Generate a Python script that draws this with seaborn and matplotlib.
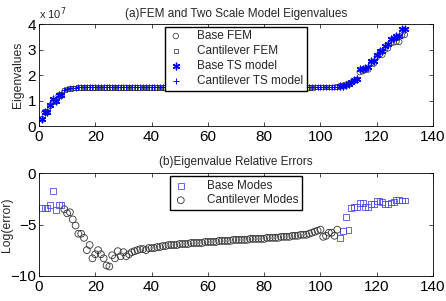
import numpy as np
import matplotlib
matplotlib.use("Agg")
import matplotlib.pyplot as plt
import seaborn as sns

# Mode numbers
base_modes_lo = [1, 2, 3, 4, 5, 6, 7, 8]
cant_modes = list(range(9, 107))
base_modes_hi = list(range(107, 131))

# Eigenvalues (units of 1e7)
base_fem_lo = [0.27, 0.55, 0.55, 0.80, 0.95, 0.97, 1.20, 1.20]
base_ts_lo = [0.28, 0.55, 0.56, 0.82, 1.07, 0.98, 1.22, 1.22]
base_fem_hi = [1.56, 1.58, 1.62, 1.66, 1.70, 1.78, 1.80, 2.12, 2.15, 2.20, 2.22, 2.45,
               2.45, 2.70, 2.80, 2.80, 3.00, 3.05, 3.25, 3.28, 3.30, 3.30, 3.55, 3.58]
base_ts_hi = [1.56, 1.59, 1.63, 1.67, 1.72, 1.82, 1.84, 2.22, 2.25, 2.28, 2.30, 2.55,
              2.55, 2.80, 2.95, 2.95, 3.15, 3.20, 3.42, 3.45, 3.52, 3.55, 3.82, 3.82]
cant_fem = [1.42, 1.45, 1.47, 1.49, 1.50, 1.51, 1.51, 1.51, 1.52, 1.52,
            1.52, 1.52, 1.52, 1.52, 1.52, 1.52, 1.52, 1.52, 1.52, 1.52,
            1.52, 1.52, 1.52, 1.52, 1.52, 1.52, 1.52, 1.52, 1.52, 1.52,
            1.52, 1.52, 1.52, 1.52, 1.52, 1.52, 1.52, 1.52, 1.52, 1.52,
            1.52, 1.52, 1.52, 1.52, 1.52, 1.52, 1.52, 1.52, 1.52, 1.52,
            1.52, 1.52, 1.52, 1.52, 1.52, 1.52, 1.52, 1.52, 1.52, 1.52,
            1.52, 1.52, 1.52, 1.52, 1.52, 1.52, 1.52, 1.52, 1.52, 1.52,
            1.52, 1.52, 1.52, 1.52, 1.52, 1.52, 1.52, 1.52, 1.52, 1.52,
            1.52, 1.52, 1.52, 1.52, 1.52, 1.52, 1.52, 1.52, 1.52, 1.53,
            1.53, 1.53, 1.53, 1.53, 1.53, 1.54, 1.54, 1.55]
cant_ts = [1.43, 1.46, 1.48, 1.50, 1.51, 1.52, 1.52, 1.52, 1.52, 1.52,
           1.52, 1.52, 1.52, 1.52, 1.52, 1.52, 1.52, 1.52, 1.52, 1.52,
           1.52, 1.52, 1.52, 1.52, 1.52, 1.52, 1.52, 1.52, 1.52, 1.52,
           1.52, 1.52, 1.52, 1.52, 1.52, 1.52, 1.52, 1.52, 1.52, 1.52,
           1.52, 1.52, 1.52, 1.52, 1.52, 1.52, 1.52, 1.52, 1.52, 1.52,
           1.52, 1.52, 1.52, 1.52, 1.52, 1.52, 1.52, 1.52, 1.52, 1.52,
           1.52, 1.52, 1.52, 1.52, 1.52, 1.52, 1.52, 1.52, 1.52, 1.52,
           1.52, 1.52, 1.52, 1.52, 1.52, 1.52, 1.52, 1.52, 1.52, 1.52,
           1.52, 1.52, 1.52, 1.52, 1.52, 1.52, 1.52, 1.52, 1.52, 1.53,
           1.53, 1.53, 1.53, 1.53, 1.53, 1.54, 1.54, 1.55]

# Log relative errors
base_err_lo = [-3.4, -3.4, -3.4, -3.1, -1.7, -3.6, -3.1, -3.1]
base_err_hi = [-6.3, -5.6, -4.3, -5.5, -3.4, -3.3, -3.25, -2.9, -2.9, -3.25, -3.3, -3.0,
               -3.0, -2.7, -2.7, -2.8, -3.0, -2.95, -2.85, -2.8, -2.6, -2.6, -2.65, -2.65]
cant_err = [-3.5, -3.9, -3.8, -4.5, -5.1, -5.9, -5.9, -6.3, -7.5, -7.0,
            -8.3, -7.9, -7.5, -7.9, -8.3, -9.0, -9.1, -8.0, -8.3, -7.6,
            -8.1, -7.7, -8.1, -7.9, -7.7, -7.6, -7.5, -7.4, -7.4, -7.5,
            -7.3, -7.3, -7.3, -7.2, -7.2, -7.1, -7.1, -7.0, -7.0, -7.0,
            -7.0, -6.9, -6.9, -6.9, -6.9, -6.8, -6.8, -6.8, -6.8, -6.8,
            -6.7, -6.7, -6.7, -6.7, -6.7, -6.6, -6.6, -6.6, -6.6, -6.6,
            -6.5, -6.5, -6.5, -6.5, -6.5, -6.5, -6.4, -6.4, -6.4, -6.4,
            -6.4, -6.4, -6.3, -6.3, -6.3, -6.3, -6.3, -6.2, -6.2, -6.2,
            -6.2, -6.1, -6.1, -6.1, -6.0, -6.0, -6.0, -5.9, -5.8, -5.7,
            -5.6, -5.5, -6.2, -6.1, -5.8, -5.8, -6.1, -5.5]

sns.set_style("ticks")
plt.rcParams['font.family'] = ['Liberation Sans', 'DejaVu Sans']
plt.rcParams['font.size'] = 8

fig = plt.figure(figsize=(4.46, 3.01), dpi=100)
ax1 = fig.add_axes([0.0874, 0.581, 0.8834, 0.339])
ax2 = fig.add_axes([0.0874, 0.084, 0.8834, 0.340])

asterisk = (6, 2, 0)

# (a) eigenvalues
base_x = base_modes_lo + base_modes_hi
sns.scatterplot(x=base_x, y=base_fem_lo + base_fem_hi, marker='o', s=16, color='k',
                facecolor='none', edgecolor=(0.15, 0.15, 0.15), linewidth=0.5, label='Base FEM', ax=ax1)
sns.scatterplot(x=cant_modes, y=cant_fem, marker='s', s=10, color='k',
                facecolor='none', edgecolor=(0.15, 0.15, 0.15), linewidth=0.5, label='Cantilever FEM', ax=ax1)
sns.scatterplot(x=base_x, y=base_ts_lo + base_ts_hi, marker=asterisk, s=22, color='blue',
                linewidth=1.0, label='Base TS model', ax=ax1)
sns.scatterplot(x=cant_modes, y=cant_ts, marker='+', s=14, color='blue',
                linewidth=0.7, label='Cantilever TS model', ax=ax1)
ax1.set_xlim(0, 140)
ax1.set_ylim(0, 4)
ax1.set_yticks([0, 1, 2, 3, 4])
ax1.set_ylabel('Eigenvalues', fontsize=8.7)
ax1.yaxis.set_label_coords(-0.038, 0.5)
ax1.set_title('(a)FEM and Two Scale Model Eigenvalues', fontsize=8.5, pad=5)
ax1.text(0.0, 1.02, r'x 10$^7$', transform=ax1.transAxes, fontsize=8, va='bottom')
ax1.legend(loc='upper center', bbox_to_anchor=(0.5, 0.975), fontsize=8.5, frameon=True,
           fancybox=False, edgecolor='k', framealpha=1, borderpad=0.3, labelspacing=0.25,
           handlelength=1.2, handletextpad=1.2, borderaxespad=0)

# (b) errors
sns.scatterplot(x=base_x, y=base_err_lo + base_err_hi, marker='s', s=18, color='blue',
                facecolor='none', edgecolor=(0.3, 0.3, 0.9), linewidth=0.6, label='Base Modes', ax=ax2)
sns.scatterplot(x=cant_modes, y=cant_err, marker='o', s=24, color='k',
                facecolor='none', edgecolor=(0.2, 0.2, 0.2), linewidth=0.6, label='Cantilever Modes', ax=ax2)
ax2.set_xlim(0, 140)
ax2.set_ylim(-10, 0)
ax2.set_yticks([-10, -5, 0])
ax2.set_ylabel('Log(error)', fontsize=8.7)
ax2.yaxis.set_label_coords(-0.066, 0.5)
ax2.set_title('(b)Eigenvalue Relative Errors', fontsize=8.5, pad=6)
ax2.legend(loc='upper center', bbox_to_anchor=(0.5, 0.97), fontsize=8.5, frameon=True,
           fancybox=False, edgecolor='k', framealpha=1, borderpad=0.3, labelspacing=0.2,
           handlelength=1.2, handletextpad=1.6, borderaxespad=0)

for ax in (ax1, ax2):
    ax.set_xticks([0, 20, 40, 60, 80, 100, 120, 140])
    ax.tick_params(direction='in', top=True, right=True, length=3, width=0.5,
                   labelsize=11, pad=2, colors='k')
    ax.tick_params(axis='x', pad=3)
    for sp in ax.spines.values():
        sp.set_visible(True)
        sp.set_linewidth(0.6)
        sp.set_color('k')

fig.savefig('out.png', dpi=100)
